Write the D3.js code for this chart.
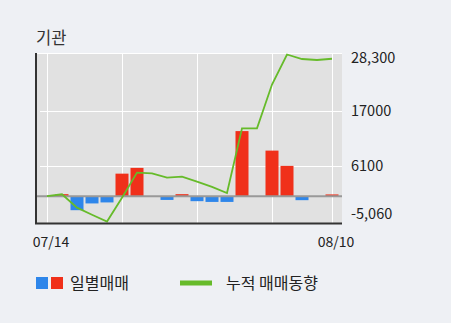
<!DOCTYPE html>
<html>
<head>
<meta charset="utf-8">
<script src="https://cdn.jsdelivr.net/npm/d3@7"></script>
<style>
  body { margin:0; background:#eef0f4; }
  text { font-family:"Noto Sans CJK KR", "Noto Sans", sans-serif; fill:#222; }
</style>
</head>
<body>
<div id="chart"></div>
<script>
var dates = ["07/14","07/15","07/16","07/17","07/20","07/21","07/22","07/23","07/24",
             "07/27","07/28","07/29","07/30","07/31","08/03","08/04","08/05","08/06","08/07","08/10"];
// daily net buying (bars)
var daily = [0, 400, -2800, -1450, -1250, 4500, 5650, 0, -750, 400,
             -1000, -1150, -1150, 13000, 0, 9100, 6050, -800, 0, 350];
// cumulative trend (line)
var cumulative = [0, 380, -2300, -3700, -5060, -300, 4700, 4570, 3700, 3900,
                  2900, 1840, 640, 13560, 13560, 22300, 28300, 27400, 27200, 27450];
var yTicks = [28300, 17000, 6100, -5060];
var yTickLabels = ["28,300", "17000", "6100", "-5,060"];
var gridDates = ["07/14", "07/21", "07/28", "08/04", "08/10"];
var xLabels = ["07/14", "08/10"];

var W = 451, H = 323,
    plot = {left:37, right:342, top:53, bottom:223},
    posColor = "#f0301a", negColor = "#2e86ea", lineColor = "#66bb2a";

var svg = d3.select("#chart").append("svg")
    .attr("width", W).attr("height", H);

var x = d3.scalePoint().domain(dates).range([plot.left + 10, plot.right - 10]);
var y = d3.scaleLinear().domain([-5060, 28300]).range([221.5, 54.5]);

// title
svg.append("text").attr("x", 36).attr("y", 44)
  .style("font-size", "16.5px").style("fill", "#333").text("기관");

// plot background
svg.append("rect")
  .attr("x", plot.left).attr("y", plot.top)
  .attr("width", plot.right - plot.left).attr("height", plot.bottom - plot.top)
  .attr("fill", "#e1e1e1");

// grid
svg.append("line")
  .attr("x1", plot.left).attr("x2", plot.right)
  .attr("y1", plot.top + 0.5).attr("y2", plot.top + 0.5)
  .attr("stroke", "#fff");
svg.selectAll(".hgrid").data([17000, 6100]).enter().append("line")
  .attr("class", "hgrid")
  .attr("x1", plot.left + 3).attr("x2", plot.right)
  .attr("y1", function (d) { return Math.round(y(d)) + 0.5; })
  .attr("y2", function (d) { return Math.round(y(d)) + 0.5; })
  .attr("stroke", "#fff");
svg.selectAll(".vgrid").data(gridDates).enter().append("line")
  .attr("class", "vgrid")
  .attr("x1", function (d) { return x(d) + 0.5; })
  .attr("x2", function (d) { return x(d) + 0.5; })
  .attr("y1", plot.top).attr("y2", plot.bottom)
  .attr("stroke", "#fff");

// bars
svg.selectAll(".bar").data(daily.map(function (v, i) { return {d: dates[i], v: v}; })
    .filter(function (e) { return e.v !== 0; }))
  .enter().append("rect")
  .attr("class", "bar")
  .attr("x", function (e) { return x(e.d) - 6.5; })
  .attr("width", 13)
  .attr("y", function (e) { return e.v > 0 ? y(e.v) : y(0); })
  .attr("height", function (e) { return Math.abs(y(e.v) - y(0)); })
  .attr("fill", function (e) { return e.v > 0 ? posColor : negColor; });

// zero line
svg.append("line")
  .attr("x1", plot.left).attr("x2", plot.right)
  .attr("y1", y(0)).attr("y2", y(0))
  .attr("stroke", "#999").attr("stroke-width", 2);

// cumulative line
svg.append("path")
  .datum(cumulative)
  .attr("fill", "none")
  .attr("stroke", lineColor)
  .attr("stroke-width", 1.8)
  .attr("d", d3.line()
    .x(function (d, i) { return x(dates[i]); })
    .y(function (d) { return y(d); }));

// axes lines
svg.append("line")
  .attr("x1", plot.left - 1).attr("x2", plot.left - 1)
  .attr("y1", plot.top).attr("y2", plot.bottom + 1)
  .attr("stroke", "#333").attr("stroke-width", 2);
svg.append("line")
  .attr("x1", plot.left - 2).attr("x2", plot.right)
  .attr("y1", plot.bottom + 0.5).attr("y2", plot.bottom + 0.5)
  .attr("stroke", "#333").attr("stroke-width", 2);

// y labels
svg.selectAll(".ylab").data(yTicks).enter().append("text")
  .attr("class", "ylab")
  .attr("x", 351)
  .attr("y", function (d) { return Math.max(58, Math.min(214, y(d))); })
  .attr("dy", "0.35em")
  .style("font-size", "14.5px")
  .text(function (d, i) { return yTickLabels[i]; });

// x labels
svg.selectAll(".xlab").data(xLabels).enter().append("text")
  .attr("class", "xlab")
  .attr("x", function (d) { return x(d) + 4; })
  .attr("y", 242)
  .attr("dy", "0.35em")
  .attr("text-anchor", "middle")
  .style("font-size", "14px")
  .text(function (d) { return d; });

// legend
var lg = svg.append("g");
lg.append("rect").attr("x", 36).attr("y", 277).attr("width", 12).attr("height", 12).attr("fill", negColor);
lg.append("rect").attr("x", 51).attr("y", 277).attr("width", 12).attr("height", 12).attr("fill", posColor);
lg.append("text").attr("x", 70).attr("y", 283).attr("dy", "0.35em")
  .style("font-size", "16px").text("일별매매");
lg.append("line").attr("x1", 180).attr("x2", 212).attr("y1", 283).attr("y2", 283)
  .attr("stroke", lineColor).attr("stroke-width", 5);
lg.append("text").attr("x", 226).attr("y", 283).attr("dy", "0.35em")
  .style("font-size", "16px").text("누적 매매동향");
</script>
</body>
</html>
